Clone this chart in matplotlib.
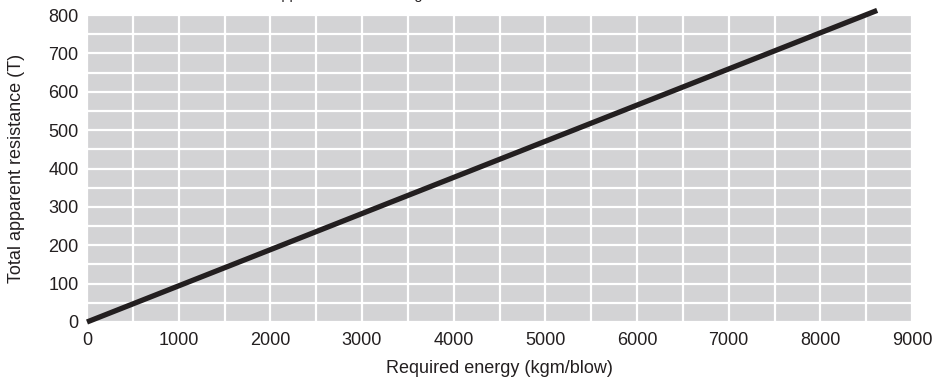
import matplotlib
matplotlib.use('Agg')
from matplotlib import pyplot as plt
import numpy as np

plt.rcParams['font.family'] = ['Liberation Sans', 'DejaVu Sans']

# data
energy = [0, 8620]          # kgm/blow
resistance = [0, 812]       # T
x_ticks = [0, 1000, 2000, 3000, 4000, 5000, 6000, 7000, 8000, 9000]
y_ticks = [0, 100, 200, 300, 400, 500, 600, 700, 800]

W, H = 942, 378
fig = plt.figure(figsize=(W / 100, H / 100), dpi=100)
ax = fig.add_axes([87 / W, 1 - 322 / H, (912 - 87) / W, (322 - 15) / H])

ax.set_facecolor('#d3d3d5')
ax.set_xlim(0, 9000)
ax.set_ylim(0, 800)
ax.set_xticks(x_ticks)
ax.set_yticks(y_ticks)
ax.set_xticks(np.arange(0, 9001, 500), minor=True)
ax.set_yticks(np.arange(0, 801, 50), minor=True)
ax.grid(which='both', color='white', linewidth=1.6)
ax.set_axisbelow(True)
for s in ax.spines.values():
    s.set_visible(False)
ax.tick_params(which='both', length=0, labelsize=13, colors='#231f20')
ax.tick_params(axis='x', pad=7)
ax.tick_params(axis='y', pad=6)

ax.plot(energy, resistance, color='#231f20', linewidth=3.8,
        solid_capstyle='butt', clip_on=False, zorder=5)

ax.set_xlabel('Required energy (kgm/blow)', fontsize=13, color='#231f20', labelpad=8)
ax.set_ylabel('Total apparent resistance (T)', fontsize=13, color='#231f20', labelpad=17)

# title mostly cut off at the top edge, as in the source
fig.text(238 / W, 1 + 0.5 / H, 'Total apparent resistance against', fontsize=10.5,
         color='#231f20', va='baseline', ha='left')

fig.savefig('out.png', dpi=100)
